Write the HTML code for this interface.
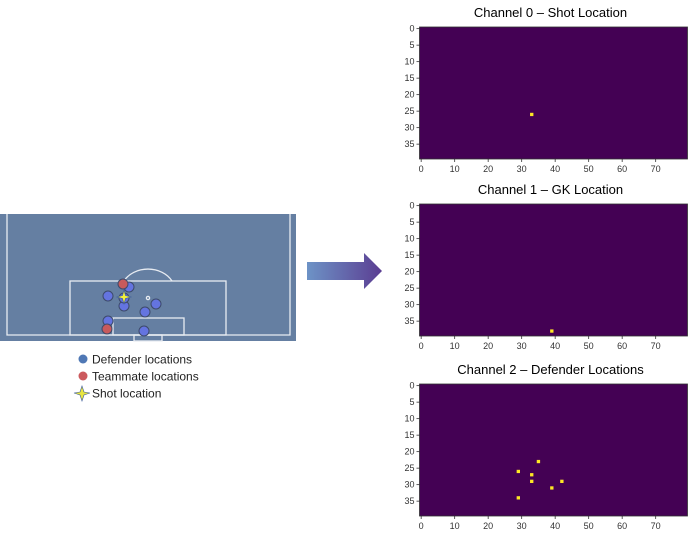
<!DOCTYPE html>
<html><head><meta charset="utf-8"><style>
body{margin:0;background:#fff;width:692px;height:535px;overflow:hidden;font-family:"Liberation Sans",sans-serif}
svg{position:absolute;left:0;top:0}
</style></head><body>
<svg width="692" height="535">
<defs><linearGradient id="ag" x1="0" x2="1"><stop offset="0" stop-color="#6d93c6"/><stop offset="1" stop-color="#5b3d92"/></linearGradient></defs>
<g>
<rect x="0" y="214" width="296" height="127" fill="#657fa2"/>
<g fill="none" stroke="#e8ecf2" stroke-width="1.3">
<path d="M7 214 V335 H290 V214"/>
<rect x="70" y="281" width="156" height="54"/>
<rect x="113" y="318" width="71" height="17"/>
<rect x="134" y="335" width="28" height="6"/>
<path d="M124 281 A27 22 0 0 1 172 281"/>
<circle cx="148" cy="298" r="1.6"/>
</g>
</g>
<g id="pts"></g>
<g font-size="12" fill="#222">
<circle cx="83" cy="359" r="4.5" fill="#4f78b5"/><text x="92" y="363.5">Defender locations</text>
<circle cx="83" cy="376" r="4.5" fill="#cc5a5e"/><text x="92" y="380.5">Teammate locations</text>
<path d="M82 386 L84 392 L90 393 L84 395 L82 401 L80 395 L74 393 L80 392Z" fill="#e9e640" stroke="#3a5a9a" stroke-width="0.6"/><text x="92" y="397.5">Shot location</text>
</g>
<path d="M307 262 H364 V253 L382 271 L364 289 V280 H307Z" fill="url(#ag)"/>
<g id="maps"></g>
</svg>
<script>
const defX=[129,108,124,145,156,108,144,124];
const defY=[287,296,306,312,304,321,331,298];
const tmX=[123,107];const tmY=[284,329];
const shot=[124,297];
const titles=["Channel 0 – Shot Location","Channel 1 – GK Location","Channel 2 – Defender Locations"];
const ch0Cols=[33];const ch0Rows=[26];
const ch1Cols=[39];const ch1Rows=[38];
const ch2Cols=[35,29,33,33,42,39,29];const ch2Rows=[23,26,27,29,29,31,34];
const xTicks=[0,10,20,30,40,50,60,70];const yTicks=[0,5,10,15,20,25,30,35];
const NS="http://www.w3.org/2000/svg";
function mk(t,a,p){const e=document.createElementNS(NS,t);for(const k in a)e.setAttribute(k,a[k]);p.appendChild(e);return e;}
const pts=document.getElementById('pts');
for(let i=0;i<defX.length;i++){const c=mk('circle',{cx:defX[i],cy:defY[i],r:5,fill:'#6474e0',stroke:'#3d4a6a','stroke-width':1},pts);

}
for(let i=0;i<tmX.length;i++){const c=mk('circle',{cx:tmX[i],cy:tmY[i],r:5,fill:'#c85a5c',stroke:'#3d4a6a','stroke-width':1},pts);

}
const s=mk('path',{d:`M${shot[0]} ${shot[1]-7} L${shot[0]+1.5} ${shot[1]-1.5} L${shot[0]+7} ${shot[1]} L${shot[0]+1.5} ${shot[1]+1.5} L${shot[0]} ${shot[1]+7} L${shot[0]-1.5} ${shot[1]+1.5} L${shot[0]-7} ${shot[1]} L${shot[0]-1.5} ${shot[1]-1.5}Z`,fill:'#f3f03a',stroke:'#3a5a9a','stroke-width':0.6},pts);


const maps=document.getElementById('maps');
const tops=[27,204,384];const L=419.5,W=268,H=132;
const cols=[ch0Cols,ch1Cols,ch2Cols],rows=[ch0Rows,ch1Rows,ch2Rows];
const cw=W/80,rh=H/40;
const xs=c=>L+c*cw, ys=(t,r)=>t+r*rh;
for(let k=0;k<3;k++){const T=tops[k];
const g=mk('g',{},maps);


const tt=mk('text',{x:L+W/2-3,y:T-10,'font-size':13,'text-anchor':'middle',fill:'#000'},g);tt.textContent=titles[k];


mk('rect',{x:L,y:T,width:W,height:H,fill:'#440154',stroke:'#333','stroke-width':0.8},g);
for(let i=0;i<cols[k].length;i++){const c=mk('rect',{x:xs(cols[k][i]),y:ys(T,rows[k][i]),width:cw,height:rh,fill:'#fde725'},g);

}
for(const v of xTicks){const x=xs(v+0.5);mk('line',{x1:x,x2:x,y1:T+H,y2:T+H+3,stroke:'#333','stroke-width':0.8},g);
const t=mk('text',{x:x,y:T+H+13,'font-size':9,'text-anchor':'middle',fill:'#333'},g);t.textContent=v;

}
for(const v of yTicks){const y=ys(T,v+0.5);mk('line',{x1:L-3,x2:L,y1:y,y2:y,stroke:'#333','stroke-width':0.8},g);
const t=mk('text',{x:L-5,y:y+3,'font-size':9,'text-anchor':'end',fill:'#333'},g);t.textContent=v;

}
}
</script>
</body></html>
